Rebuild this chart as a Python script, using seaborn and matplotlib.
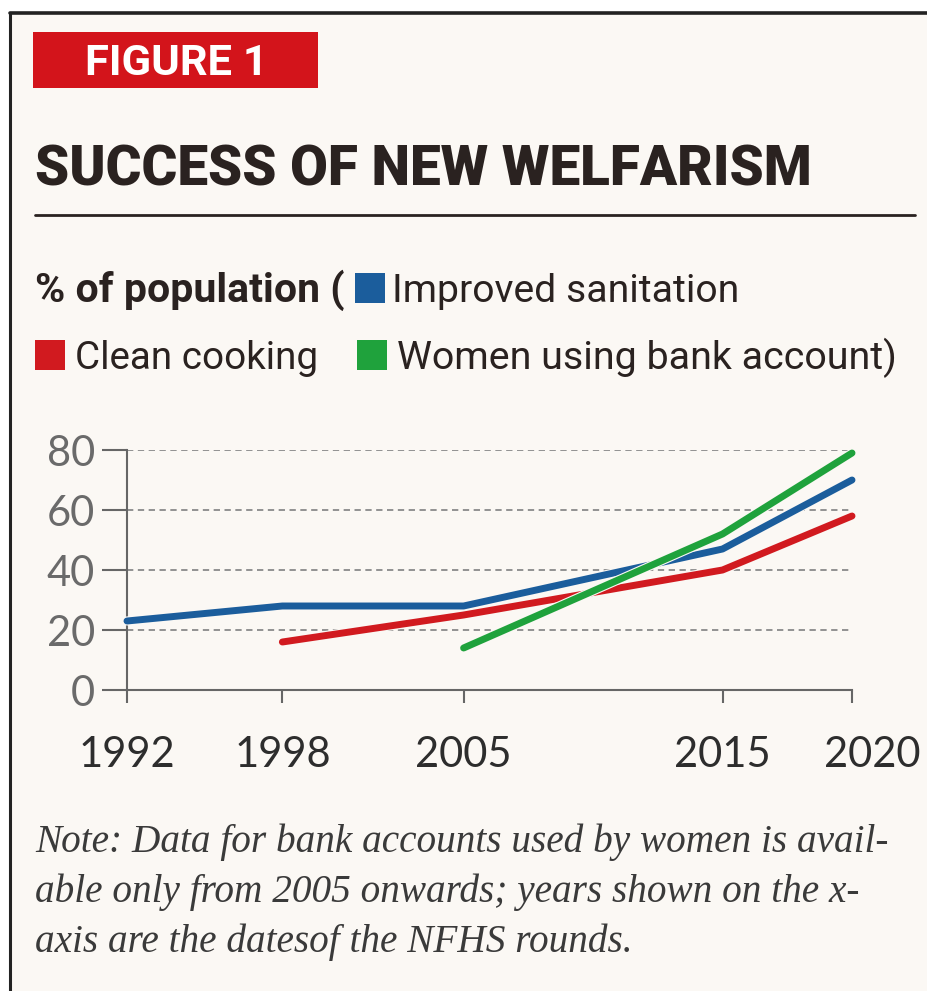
import matplotlib
matplotlib.use("Agg")
import matplotlib.pyplot as plt
import matplotlib.patheffects as pe
from matplotlib.patches import Rectangle
from matplotlib.lines import Line2D
from matplotlib.transforms import ScaledTranslation
import seaborn as sns
import pandas as pd

# ---- data ----
years = [1992, 1998, 2005, 2015, 2020]
sanitation_years = [1992, 1998, 2005, 2015, 2020]
sanitation = [23, 28, 28, 47, 70]
cooking_years = [1998, 2005, 2015, 2020]
cooking = [16, 25, 40, 58]
bank_years = [2005, 2015, 2020]
bank = [14, 52, 79]
series_names = ["Improved sanitation", "Clean cooking", "Women using bank account"]
y_ticks = [0, 20, 40, 60, 80]

colors = {"Improved sanitation": "#1b5d9c",
          "Clean cooking": "#d11a1f",
          "Women using bank account": "#1fa23c"}

df = pd.concat([
    pd.DataFrame({"year": sanitation_years, "value": sanitation, "series": series_names[0]}),
    pd.DataFrame({"year": cooking_years, "value": cooking, "series": series_names[1]}),
    pd.DataFrame({"year": bank_years, "value": bank, "series": series_names[2]}),
], ignore_index=True)

sns.set_theme(style="white")
BG = "#fbf8f4"
INK = "#2a2220"
W, H = 927, 991
fig = plt.figure(figsize=(W / 100, H / 100), dpi=100)
fig.patch.set_facecolor("white")
renderer = fig.canvas.get_renderer()


def fx(px):
    return px / W


def fy(py):
    return 1 - py / H


def fit_width(t, target_px):
    fs = t.get_fontsize()
    w = t.get_window_extent(renderer=renderer).width
    if w > 0:
        t.set_fontsize(fs * target_px / w)
    return t


# framed panel background
fig.add_artist(Rectangle((10 / W, 0), 1 - 10 / W, 1 - 14 / H, transform=fig.transFigure,
                         facecolor=BG, edgecolor="none", zorder=-5))
fig.add_artist(Line2D([10 / W, 10 / W], [0, 1 - 13 / H], transform=fig.transFigure,
                      color="#222222", lw=2.2))
fig.add_artist(Line2D([10 / W, 1], [1 - 13 / H, 1 - 13 / H], transform=fig.transFigure,
                      color="#222222", lw=2.6))

# FIGURE 1 red box
fig.add_artist(Rectangle((fx(33), fy(88)), fx(318) - fx(33), fy(32) - fy(88),
                         transform=fig.transFigure, facecolor="#d3141b", edgecolor="none"))
cond = ["Roboto", "DejaVu Sans"]
t = fig.text(fx(85), fy(75), "FIGURE 1", color="white", fontsize=28, fontweight="bold",
             family=cond, fontstretch="condensed", ha="left", va="baseline")
fit_width(t, 183)

# main title
t = fig.text(fx(35), fy(185), "SUCCESS OF NEW WELFARISM", color=INK, fontsize=50,
             fontweight="heavy", family=cond, fontstretch="condensed",
             ha="left", va="baseline")
fit_width(t, 777)
fig.add_artist(Line2D([fx(35), fx(915)], [fy(215), fy(215)], transform=fig.transFigure,
                      color=INK, lw=2.0))

# legend lines
t = fig.text(fx(35), fy(302), "% of population (", color=INK, fontsize=27,
             fontweight="bold", family=cond, ha="left", va="baseline")
fit_width(t, 310)
fig.add_artist(Rectangle((fx(355), fy(303)), fx(30), fy(273) - fy(303),
                         transform=fig.transFigure, facecolor=colors[series_names[0]],
                         edgecolor="none"))
t = fig.text(fx(392), fy(302), "Improved sanitation", color=INK, fontsize=27,
             family=cond, ha="left", va="baseline")
fit_width(t, 346)
fig.add_artist(Rectangle((fx(35), fy(370)), fx(30), fy(340) - fy(370),
                         transform=fig.transFigure, facecolor=colors[series_names[1]],
                         edgecolor="none"))
t = fig.text(fx(75), fy(369), "Clean cooking", color=INK, fontsize=27,
             family=cond, ha="left", va="baseline")
fit_width(t, 243)
fig.add_artist(Rectangle((fx(357), fy(370)), fx(30), fy(340) - fy(370),
                         transform=fig.transFigure, facecolor=colors[series_names[2]],
                         edgecolor="none"))
t = fig.text(fx(397), fy(369), "Women using bank account)", color=INK, fontsize=27,
             family=cond, ha="left", va="baseline")
fit_width(t, 500)

# ---- chart ----
ax = fig.add_axes([fx(127), fy(690), fx(852) - fx(127), fy(450) - fy(690)])
ax.set_facecolor("none")

for yv in y_ticks[1:]:
    ax.axhline(yv, color="#8a8a8a", lw=1.3, ls=(0, (3.5, 2.5)), zorder=1)

sns.lineplot(data=df, x="year", y="value", hue="series", hue_order=series_names,
             palette=colors, linewidth=5.0, legend=False, ax=ax, zorder=3,
             estimator=None, sort=True)
for ln in ax.get_lines()[-3:]:
    ln.set_solid_capstyle("round")
    ln.set_clip_on(False)
    ln.set_path_effects([pe.Stroke(linewidth=6.6, foreground=BG), pe.Normal()])

ax.set_xlim(1992, 2020)
ax.set_ylim(0, 80)
ax.set_xticks(years)
ax.set_xticklabels([str(y) for y in years])
ax.set_yticks(y_ticks)
ax.set_yticklabels([str(v) for v in y_ticks])
ax.set_xlabel("")
ax.set_ylabel("")

for s in ["top", "right"]:
    ax.spines[s].set_visible(False)
for s in ["left", "bottom"]:
    ax.spines[s].set_color("#666666")
    ax.spines[s].set_linewidth(1.5)

ax.tick_params(axis="y", direction="out", length=18, width=1.5, color="#666666",
               pad=5, labelsize=30, labelcolor="#6a6a6a", left=True)
ax.tick_params(axis="x", direction="out", length=9, width=1.5, color="#666666",
               pad=24, labelsize=30, labelcolor="#2d2d2d", bottom=True)
for lab in ax.get_xticklabels() + ax.get_yticklabels():
    lab.set_family(["Lato", "DejaVu Sans"])
last = ax.get_xticklabels()[-1]
last.set_transform(last.get_transform() + ScaledTranslation(20 / 100, 0, fig.dpi_scale_trans))

# ---- note ----
note_lines = ["Note: Data for bank accounts used by women is avail-",
              "able only from 2005 onwards; years shown on the x-",
              "axis are the datesof the NFHS rounds."]
note_widths = [855, 790, 595]
for i, (txt, wpx) in enumerate(zip(note_lines, note_widths)):
    t = fig.text(fx(35), fy(852 + 50 * i), txt, color="#3a3a3a", fontsize=26, style="italic",
                 family=["Liberation Serif", "DejaVu Serif"], ha="left", va="baseline")
    if i == 0:
        fit_width(t, wpx)
        note_fs = t.get_fontsize()
    else:
        t.set_fontsize(note_fs)

fig.savefig("out.png", dpi=100, facecolor=fig.get_facecolor())
